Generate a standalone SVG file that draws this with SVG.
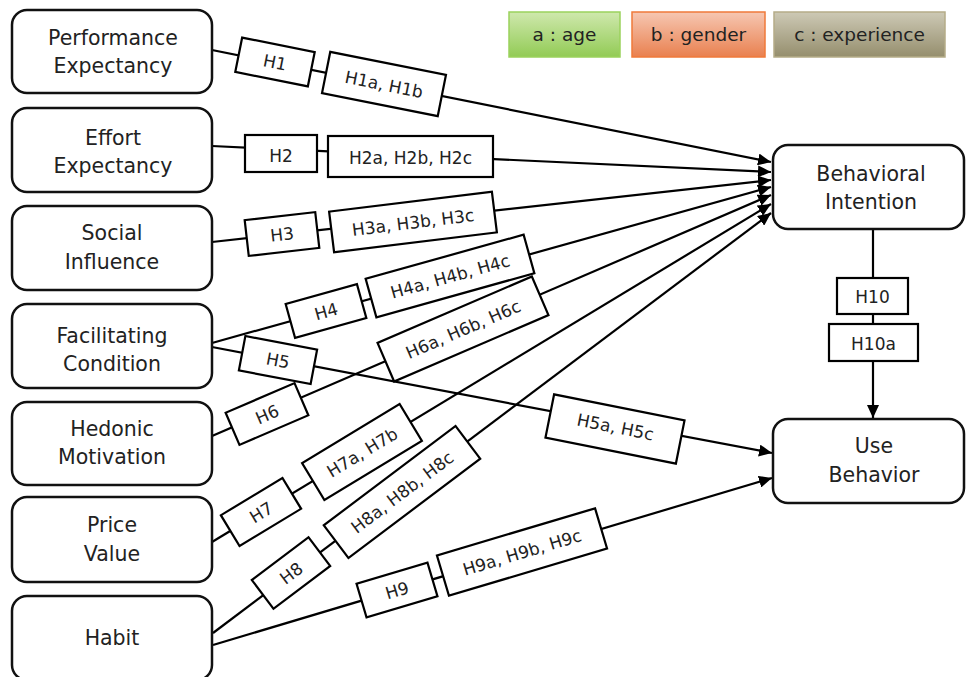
<svg xmlns="http://www.w3.org/2000/svg" width="966" height="677" viewBox="0 0 966 677">
<defs>
<marker id="arr" markerUnits="userSpaceOnUse" markerWidth="14" markerHeight="12" viewBox="0 0 14 12" refX="13" refY="6" orient="auto">
<path d="M0,0 L13,6 L0,12 Z" fill="#000"/>
</marker>
<linearGradient id="gA" x1="0" y1="0" x2="0" y2="1"><stop offset="0" stop-color="#cfe8ad"/><stop offset="1" stop-color="#92cb55"/></linearGradient>
<linearGradient id="gB" x1="0" y1="0" x2="0" y2="1"><stop offset="0" stop-color="#f6c7b2"/><stop offset="1" stop-color="#e9804f"/></linearGradient>
<linearGradient id="gC" x1="0" y1="0" x2="0" y2="1"><stop offset="0" stop-color="#cdc9b5"/><stop offset="1" stop-color="#958e6d"/></linearGradient>
</defs>
<style>
.node rect{fill:#fff;stroke:#111;stroke-width:2.5}
.node text{font-family:"DejaVu Sans",sans-serif;font-size:20.5px;fill:#222;text-anchor:middle}
.conn line{stroke:#000;stroke-width:2.2;fill:none}
.lbl rect{fill:#fff;stroke:#000;stroke-width:2.2}
.lbl text{font-family:"DejaVu Sans",sans-serif;font-size:17px;fill:#222;text-anchor:middle}
.leg text{font-family:"DejaVu Sans",sans-serif;font-size:18.5px;fill:#222;text-anchor:middle}
</style>
<rect width="966" height="677" fill="#fff"/>

<g id="legend" class="leg">
<g id="legend-a"><rect x="509" y="12" width="111" height="45" fill="url(#gA)" stroke="#9bd25c" stroke-width="1.5"/><text x="564.5" y="41">a : age</text></g>
<g id="legend-b"><rect x="632" y="12" width="133" height="45" fill="url(#gB)" stroke="#f07a3a" stroke-width="1.5"/><text x="698.5" y="41">b : gender</text></g>
<g id="legend-c"><rect x="774" y="12" width="171" height="45" fill="url(#gC)" stroke="#b5ac88" stroke-width="1.5"/><text x="859.5" y="41">c : experience</text></g>
</g>

<g id="connectors" class="conn">
<line x1="212" y1="50" x2="771" y2="162" marker-end="url(#arr)"/>
<line x1="212" y1="146" x2="771" y2="172" marker-end="url(#arr)"/>
<line x1="212" y1="242" x2="771" y2="180" marker-end="url(#arr)"/>
<line x1="212" y1="343" x2="771" y2="187" marker-end="url(#arr)"/>
<line x1="212" y1="436" x2="771" y2="195" marker-end="url(#arr)"/>
<line x1="212" y1="542" x2="771" y2="204" marker-end="url(#arr)"/>
<line x1="213" y1="633" x2="771" y2="213" marker-end="url(#arr)"/>
<line x1="212" y1="347" x2="772" y2="453" marker-end="url(#arr)"/>
<line x1="213" y1="645" x2="772" y2="478" marker-end="url(#arr)"/>
<line x1="873" y1="228" x2="873" y2="418" marker-end="url(#arr)"/>
</g>

<g id="labels" class="lbl">
<g id="lbl-H1" transform="translate(275,62) rotate(11.3)"><rect x="-37" y="-17.5" width="74" height="35"/><text y="6.5">H1</text></g>
<g id="lbl-H1ab" transform="translate(384,84) rotate(11.3)"><rect x="-59" y="-21" width="118" height="42"/><text y="6.5">H1a, H1b</text></g>
<g id="lbl-H2"><rect x="245" y="135" width="72" height="37"/><text x="281" y="162">H2</text></g>
<g id="lbl-H2abc"><rect x="328" y="136" width="165" height="41"/><text x="410.5" y="163.5">H2a, H2b, H2c</text></g>
<g id="lbl-H3" transform="translate(282,234) rotate(-6.5)"><rect x="-35.5" y="-18" width="71" height="36"/><text y="6.5">H3</text></g>
<g id="lbl-H3abc" transform="translate(413,222) rotate(-7)"><rect x="-82" y="-20.5" width="164" height="41"/><text y="6.5">H3a, H3b, H3c</text></g>
<g id="lbl-H4" transform="translate(326,311) rotate(-15.6)"><rect x="-37" y="-17.5" width="74" height="35"/><text y="6.5">H4</text></g>
<g id="lbl-H4abc" transform="translate(450,276) rotate(-15.6)"><rect x="-82" y="-20" width="164" height="40"/><text y="6.5">H4a, H4b, H4c</text></g>
<g id="lbl-H6abc" transform="translate(463,329) rotate(-23.3)"><rect x="-84" y="-21" width="168" height="42"/><text y="6.5">H6a, H6b, H6c</text></g>
<g id="lbl-H5" transform="translate(278,360) rotate(10.7)"><rect x="-36.5" y="-17.5" width="73" height="35"/><text y="6.5">H5</text></g>
<g id="lbl-H5ac" transform="translate(615,429) rotate(11.3)"><rect x="-66.5" y="-22" width="133" height="44"/><text y="4">H5a, H5c</text></g>
<g id="lbl-H6" transform="translate(267,414) rotate(-23.3)"><rect x="-37.5" y="-17.5" width="75" height="35"/><text y="6.5">H6</text></g>
<g id="lbl-H7" transform="translate(261,512) rotate(-31.2)"><rect x="-36" y="-18" width="72" height="36"/><text y="6.5">H7</text></g>
<g id="lbl-H7ab" transform="translate(362,452) rotate(-31.2)"><rect x="-57" y="-21.5" width="114" height="43"/><text y="6.5">H7a, H7b</text></g>
<g id="lbl-H8" transform="translate(291,573) rotate(-37)"><rect x="-35.5" y="-18" width="71" height="36"/><text y="6.5">H8</text></g>
<g id="lbl-H8abc" transform="translate(402,492) rotate(-37)"><rect x="-82.5" y="-20.5" width="165" height="41"/><text y="6.5">H8a, H8b, H8c</text></g>
<g id="lbl-H9" transform="translate(397,590) rotate(-16.6)"><rect x="-37" y="-17.5" width="74" height="35"/><text y="6.5">H9</text></g>
<g id="lbl-H9abc" transform="translate(522,552) rotate(-16.6)"><rect x="-82.5" y="-21" width="165" height="42"/><text y="6.5">H9a, H9b, H9c</text></g>
<g id="lbl-H10"><rect x="837" y="278" width="71" height="36"/><text x="872.5" y="303">H10</text></g>
<g id="lbl-H10a"><rect x="829" y="324" width="89" height="37"/><text x="873.5" y="350">H10a</text></g>
</g>

<g id="node-performance" class="node"><rect x="12" y="10" width="200" height="83" rx="15"/><text x="113" y="45">Performance</text><text x="113" y="73">Expectancy</text></g>
<g id="node-effort" class="node"><rect x="12" y="108" width="200" height="84" rx="15"/><text x="113" y="145">Effort</text><text x="113" y="173">Expectancy</text></g>
<g id="node-social" class="node"><rect x="12" y="206" width="200" height="84" rx="15"/><text x="112" y="240">Social</text><text x="112" y="269">Influence</text></g>
<g id="node-facilitating" class="node"><rect x="12" y="304" width="200" height="84" rx="15"/><text x="112" y="343">Facilitating</text><text x="112" y="371">Condition</text></g>
<g id="node-hedonic" class="node"><rect x="12" y="402" width="200" height="83" rx="15"/><text x="112" y="436">Hedonic</text><text x="112" y="464">Motivation</text></g>
<g id="node-price" class="node"><rect x="12" y="497" width="200" height="85" rx="15"/><text x="112" y="532">Price</text><text x="112" y="561">Value</text></g>
<g id="node-habit" class="node"><rect x="12" y="596" width="200" height="84" rx="15"/><text x="112" y="645">Habit</text></g>
<g id="node-intention" class="node"><rect x="773" y="145" width="191" height="84" rx="15"/><text x="871" y="181">Behavioral</text><text x="871" y="209">Intention</text></g>
<g id="node-use" class="node"><rect x="773" y="419" width="191" height="84" rx="15"/><text x="874" y="453">Use</text><text x="874" y="482">Behavior</text></g>
</svg>
